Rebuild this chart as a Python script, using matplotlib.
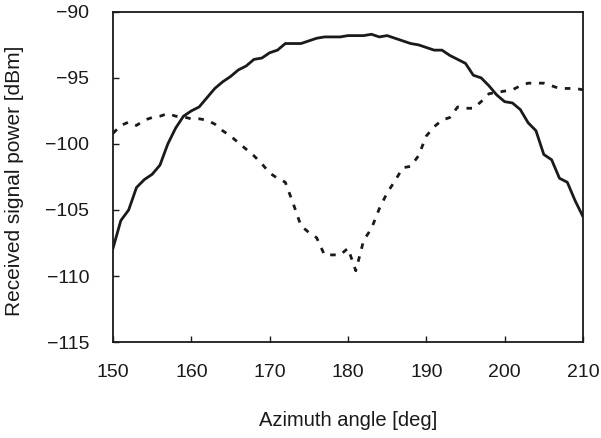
import matplotlib
matplotlib.use("Agg")
import matplotlib.pyplot as plt

plt.rcParams['font.family'] = ['Liberation Sans', 'DejaVu Sans']

# azimuth angle [deg]
angle = list(range(150, 211))

# received power, solid curve [dBm]
power_solid = [
    -107.9, -105.8, -105.0, -103.3, -102.7, -102.3, -101.6, -100.0, -98.8, -97.9,
    -97.5, -97.2, -96.5, -95.8, -95.3, -94.9, -94.4, -94.1, -93.6, -93.5,
    -93.1, -92.9, -92.4, -92.4, -92.4, -92.2, -92.0, -91.9, -91.9, -91.9,
    -91.8, -91.8, -91.8, -91.7, -91.9, -91.8, -92.0, -92.2, -92.4, -92.5,
    -92.7, -92.9, -92.9, -93.3, -93.6, -93.9, -94.8, -95.0, -95.6, -96.3,
    -96.8, -96.9, -97.4, -98.4, -99.0, -100.8, -101.2, -102.6, -102.9, -104.3,
    -105.5,
]

# received power, dashed curve [dBm]
power_dashed = [
    -99.2, -98.6, -98.35, -98.6, -98.2, -98.0, -97.9, -97.7, -97.9, -97.95,
    -98.1, -98.1, -98.2, -98.5, -99.0, -99.4, -99.9, -100.4, -100.9, -101.5,
    -102.2, -102.6, -102.9, -104.5, -106.2, -106.7, -107.1, -108.4, -108.4, -108.4,
    -107.9, -109.6, -107.3, -106.4, -104.9, -103.7, -102.8, -101.8, -101.7, -100.9,
    -99.4, -98.7, -98.2, -98.0, -97.2, -97.3, -97.3, -96.8, -96.2, -96.1,
    -96.0, -95.9, -95.6, -95.4, -95.4, -95.4, -95.6, -95.8, -95.8, -95.8,
    -95.9,
]

fig = plt.figure(figsize=(6.01, 4.38), dpi=100)
ax = fig.add_axes([0.188, 0.219, 0.782, 0.754])

ax.plot(angle, power_solid, color='#1a1a1a', linewidth=2.0)
ax.plot(angle, power_dashed, color='#1a1a1a', linewidth=2.0, dashes=(2.0, 2.8))

ax.set_xlim(150, 210)
ax.set_ylim(-115, -90)
ax.set_xticks(range(150, 211, 10))
ax.set_yticks(range(-115, -89, 5))
ax.tick_params(direction='in', length=4, width=1, labelsize=14, colors='#1a1a1a')
ax.tick_params(axis='x', pad=16)
ax.tick_params(axis='y', pad=17)
for s in ax.spines.values():
    s.set_linewidth(1.3)
    s.set_color('#1a1a1a')

ax.set_xlabel("Azimuth angle [deg]", fontsize=14.5, color='#1a1a1a')
ax.set_ylabel("Received signal power [dBm]", fontsize=15, color='#1a1a1a')
ax.xaxis.set_label_coords(0.5, -0.21)
ax.yaxis.set_label_coords(-0.19, 0.489)

fig.savefig("out.png", dpi=100)
